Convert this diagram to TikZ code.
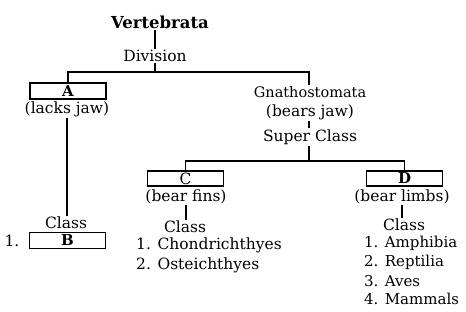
\documentclass[tikz,border=0pt]{standalone}
\usepackage{fontspec}
\setmainfont{DejaVu Serif}
\begin{document}
\begin{tikzpicture}[x=1pt,y=-1pt,
  every node/.style={inner sep=1pt, font=\fontsize{15.5}{18}\selectfont},
  boxnode/.style={draw, line width=1.2pt, minimum width=76pt, minimum height=16pt, inner sep=0pt},
  conn/.style={line width=1.4pt},
  item/.style={anchor=west}]
\useasboundingbox (0,0) rectangle (466,312);
% top
\node[font=\fontsize{16.5}{19}\selectfont\bfseries] (vert) at (160,22) {Vertebrata};
\node (div) at (155,56) {Division};
\coordinate (jr) at (309,72);
\node[boxnode, font=\fontsize{15}{18}\selectfont\bfseries] (A) at (68,91) {A};
\node (lj) at (67,109) {(lacks jaw)};
\node (clsB) at (66,223) {Class};
\node[boxnode, font=\fontsize{15}{18}\selectfont\bfseries] (B) at (67.5,240.5) {B};
\node (one) at (12,241) {1.};
% right branch
\node[font=\fontsize{14.5}{17}\selectfont] (gn) at (310,92) {Gnathostomata};
\node (bj) at (310,112) {(bears jaw)};
\node (sc) at (310,137) {Super Class};
\coordinate (jc) at (309,161);
\node[boxnode, minimum height=15pt] (C) at (185.5,178.5) {C};
\node (bf) at (186,197) {(bear fins)};
\node (clsC) at (185,227) {Class};
\node[item] (c1) at (135,245) {1. Chondrichthyes};
\node[item] (c2) at (135,265) {2. Osteichthyes};
\node[boxnode, minimum height=15pt, font=\fontsize{15}{18}\selectfont\bfseries] (D) at (404.5,178.5) {D};
\node (bl) at (402,197) {(bear limbs)};
\node (clsD) at (404,225) {Class};
\node[item, font=\fontsize{15}{18}\selectfont] (d1) at (363,243) {1. Amphibia};
\node[item, font=\fontsize{15}{18}\selectfont] (d2) at (363,262) {2. Reptilia};
\node[item, font=\fontsize{15}{18}\selectfont] (d3) at (363,281) {3. Aves};
\node[item, font=\fontsize{15}{18}\selectfont] (d4) at (363,299) {4. Mammals};
% connectors
\draw[conn] (vert.south -| div) -- (div.north);
\draw[conn] (div.south) -- (div.south |- jr);
\draw[conn] (A.north) |- (jr) -- (gn.north -| jr);
\draw[conn] (lj.south) -- (lj.south |- clsB.north);
\draw[conn] (bj.south -| jr) -- (sc.north -| jr);
\draw[conn] (sc.south -| jr) -- (jc);
\draw[conn] (C.north) |- (D.north |- jc) -- (D.north);
\draw[conn] (bf.south) -- (bf.south |- clsC.north);
\draw[conn] (bl.south) -- (bl.south |- clsD.north);
\end{tikzpicture}
\end{document}
